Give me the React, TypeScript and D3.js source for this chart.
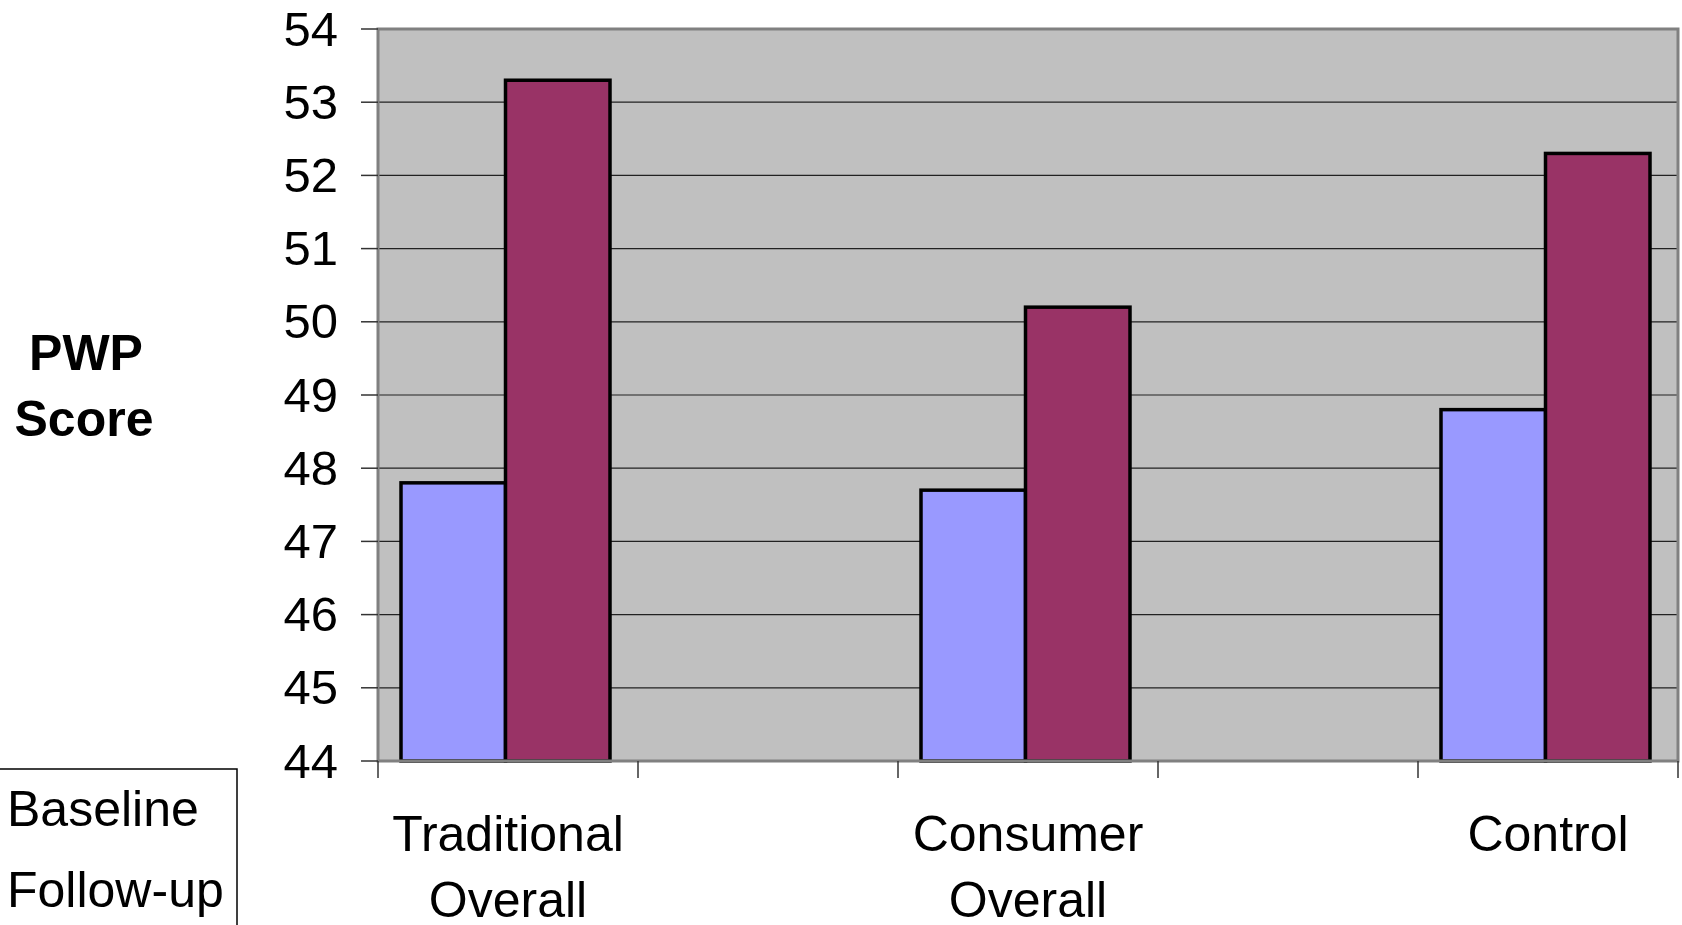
import React from 'react';
import * as d3 from 'd3';

// categories (2nd and 4th slots are empty in the original chart)
const categories = ['Traditional Overall', 'gap1', 'Consumer Overall', 'gap2', 'Control'];
const categoryLabels = [['Traditional', 'Overall'], [], ['Consumer', 'Overall'], [], ['Control']];
const seriesNames = ['Baseline', 'Follow-up'];
const baseline = [47.8, null, 47.7, null, 48.8];
const followUp = [53.3, null, 50.2, null, 52.3];
const yTicks = [44, 45, 46, 47, 48, 49, 50, 51, 52, 53, 54];
const colors = ['#9999FF', '#993366'];

const W = 1682;
const H = 925;
const FONT = '"Liberation Sans", Arial, sans-serif';

export default function App() {
  const left = 378;
  const right = 1678;
  const top = 29;
  const bottom = 761;

  const x0 = d3.scaleBand<string>().domain(categories).range([left, right]).padding(0);
  const x1 = d3.scaleBand<string>().domain(seriesNames).range([23, 232]).padding(0);
  const y = d3.scaleLinear().domain([44, 54]).range([bottom, top]);

  const values = [baseline, followUp];
  const boundaries = d3.range(categories.length + 1).map((i) => left + i * x0.bandwidth());

  return (
    <svg width={W} height={H} style={{ position: 'absolute', left: 0, top: 0, background: '#fff' }}>
      {/* plot area */}
      <rect x={left} y={top} width={right - left} height={bottom - top} fill="#C0C0C0" />

      {/* gridlines */}
      {yTicks.slice(1, -1).map((t) => (
        <line key={t} x1={left} x2={right} y1={y(t)} y2={y(t)} stroke="#222" strokeWidth={1.2} />
      ))}

      {/* bars */}
      {values.map((vals, si) =>
        vals.map((v, ci) =>
          v == null ? null : (
            <rect
              key={`${si}-${ci}`}
              x={(x0(categories[ci]) as number) + (x1(seriesNames[si]) as number)}
              y={y(v)}
              width={x1.bandwidth()}
              height={y(44) - y(v)}
              fill={colors[si]}
              stroke="#000"
              strokeWidth={3.5}
            />
          )
        )
      )}

      {/* plot border */}
      <rect x={left} y={top} width={right - left} height={bottom - top} fill="none" stroke="#808080" strokeWidth={3} />

      {/* y ticks and labels */}
      {yTicks.map((t) => (
        <g key={t}>
          <line x1={361} x2={left} y1={y(t)} y2={y(t)} stroke="#333" strokeWidth={1.5} />
          <text x={338} y={y(t) - 1} dy="0.36em" textAnchor="end" fontFamily={FONT} fontSize={49} fill="#000">
            {t}
          </text>
        </g>
      ))}

      {/* x ticks */}
      {boundaries.map((bx, i) => (
        <line key={i} x1={bx} x2={bx} y1={bottom} y2={bottom + 17} stroke="#333" strokeWidth={1.5} />
      ))}

      {/* x labels */}
      {categories.map((c, ci) => {
        const cx = (x0(c) as number) + x0.bandwidth() / 2;
        return categoryLabels[ci].map((line, li) => (
          <text key={`${c}-${li}`} x={cx} y={851 + li * 66} textAnchor="middle" fontFamily={FONT} fontSize={50} fill="#000">
            {line}
          </text>
        ));
      })}

      {/* y title */}
      <text x={86} y={370} textAnchor="middle" fontFamily={FONT} fontSize={50} fontWeight="bold" fill="#000">
        PWP
      </text>
      <text x={84} y={436} textAnchor="middle" fontFamily={FONT} fontSize={50} fontWeight="bold" fill="#000">
        Score
      </text>

      {/* legend box, cut off at the bottom */}
      <rect x={-2} y={769} width={239} height={170} fill="none" stroke="#000" strokeWidth={1.5} />
      {seriesNames.map((s, i) => (
        <text key={s} x={7} y={826 + i * 81} fontFamily={FONT} fontSize={50} fill="#000">
          {s}
        </text>
      ))}
    </svg>
  );
}
